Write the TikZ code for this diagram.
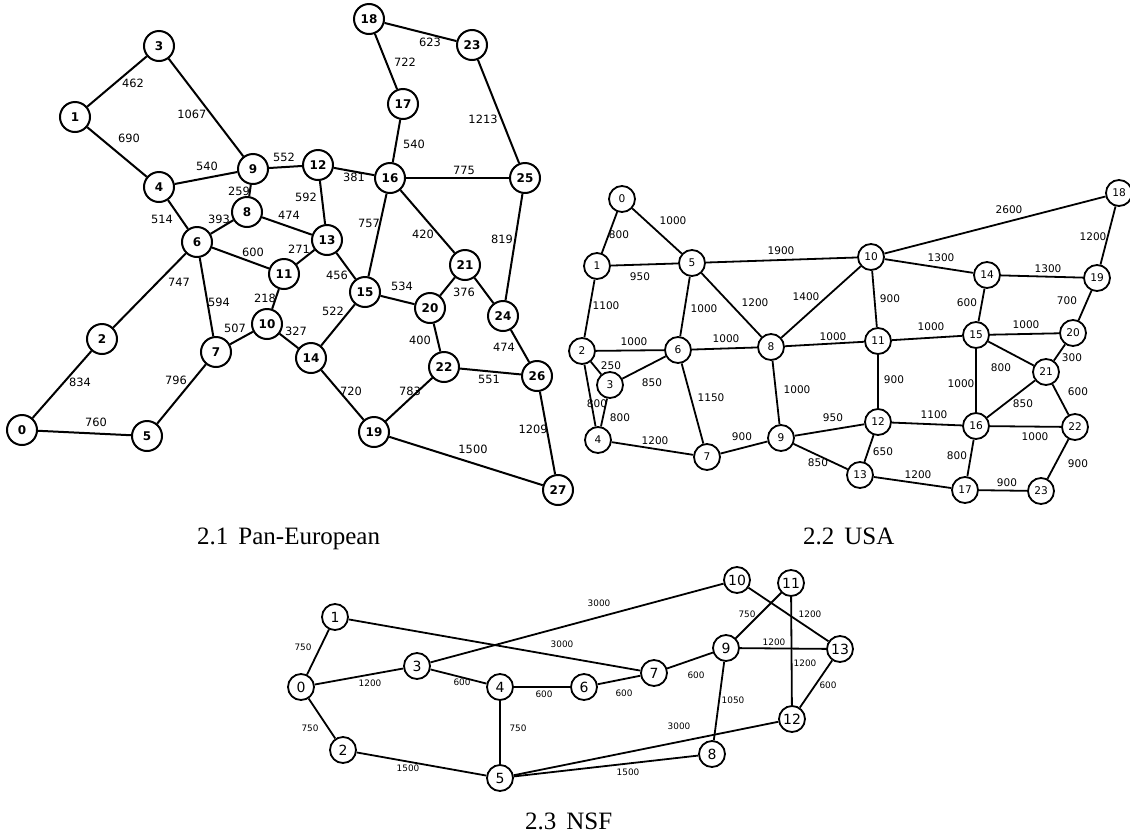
\documentclass[tikz,border=0pt]{standalone}
\usepackage{fontspec}
\setmainfont{Liberation Serif}
\newfontfamily\dv{DejaVu Sans}
\begin{document}
\begin{tikzpicture}[x=1pt,y=-1pt,
  pe/.style={circle, draw, line width=2pt, fill=white, minimum size=30pt, inner sep=0pt, font=\dv\bfseries\fontsize{12}{12}\selectfont},
  pw/.style={inner sep=0pt, font=\dv\fontsize{11.4}{11.4}\selectfont},
  us/.style={circle, draw, line width=1.8pt, fill=white, minimum size=26pt, inner sep=0pt, font=\dv\fontsize{10.6}{10.6}\selectfont},
  uw/.style={inner sep=0pt, font=\dv\fontsize{10.5}{10.5}\selectfont},
  ns/.style={circle, draw, line width=1.8pt, fill=white, minimum size=26pt, inner sep=0pt, font=\dv\fontsize{14}{14}\selectfont},
  nw/.style={inner sep=0pt, font=\dv\fontsize{8.9}{8.9}\selectfont},
  pl/.style={line width=2pt},
  ul/.style={line width=1.8pt},
  nl/.style={line width=1.8pt},
  captxt/.style={inner sep=0pt, font=\fontsize{25}{25}\selectfont}]
\useasboundingbox (0,0) rectangle (1130,836);

% ---------------- Pan-European ----------------
\node[pe] (p0) at (22,430) {0};
\node[pe] (p1) at (75,117) {1};
\node[pe] (p2) at (102,339) {2};
\node[pe] (p3) at (159,46) {3};
\node[pe] (p4) at (159,187) {4};
\node[pe] (p5) at (147,436) {5};
\node[pe] (p6) at (197,242) {6};
\node[pe] (p7) at (216,352) {7};
\node[pe] (p8) at (247,212) {8};
\node[pe] (p9) at (253,169) {9};
\node[pe] (p10) at (267,324) {10};
\node[pe] (p11) at (284,274) {11};
\node[pe] (p12) at (318,165) {12};
\node[pe] (p13) at (327,240) {13};
\node[pe] (p14) at (311,358) {14};
\node[pe] (p15) at (365,292) {15};
\node[pe] (p16) at (390,178) {16};
\node[pe] (p17) at (403,104) {17};
\node[pe] (p18) at (369,19) {18};
\node[pe] (p19) at (374,432) {19};
\node[pe] (p20) at (430,308) {20};
\node[pe] (p21) at (465,265) {21};
\node[pe] (p22) at (444,367) {22};
\node[pe] (p23) at (472,45) {23};
\node[pe] (p24) at (503,316) {24};
\node[pe] (p25) at (525,178) {25};
\node[pe] (p26) at (537,376) {26};
\node[pe] (p27) at (558,490) {27};

\foreach \a/\b in {3/1,3/9,1/4,4/9,9/12,9/8,4/6,6/8,8/13,12/13,12/16,6/11,11/13,6/2,6/7,11/10,10/7,10/14,13/15,15/14,2/0,0/5,5/7,18/23,18/17,17/16,23/25,16/25,16/15,16/21,25/24,15/20,21/20,21/24,20/22,24/26,22/26,22/19,14/19,26/27,19/27}
  \draw[pl] (p\a) -- (p\b);

\node[pw] (pw31) at (133,83) {462};
\node[pw] (pw39) at (192,114) {1067};
\node[pw] (pw14) at (129,138) {690};
\node[pw] (pw49) at (207,166) {540};
\node[pw] (pw912) at (284,157) {552};
\node[pw] (pw98) at (239,191) {259};
\node[pw] (pw46) at (162,219) {514};
\node[pw] (pw68) at (219,219) {393};
\node[pw] (pw813) at (289,215) {474};
\node[pw] (pw1213) at (306,197) {592};
\node[pw] (pw1216) at (354,177) {381};
\node[pw] (pw611) at (253,252) {600};
\node[pw] (pw1113) at (299,249) {271};
\node[pw] (pw62) at (179,282) {747};
\node[pw] (pw67) at (219,302) {594};
\node[pw] (pw1110) at (265,298) {218};
\node[pw] (pw107) at (235,328) {507};
\node[pw] (pw1014) at (296,331) {327};
\node[pw] (pw1315) at (337,275) {456};
\node[pw] (pw1514) at (333,311) {522};
\node[pw] (pw20) at (80,382) {834};
\node[pw] (pw57) at (176,380) {796};
\node[pw] (pw05) at (96,422) {760};
\node[pw] (pw1817) at (405,62) {722};
\node[pw] (pw1823) at (430,42) {623};
\node[pw] (pw1716) at (414,144) {540};
\node[pw] (pw2325) at (483,119) {1213};
\node[pw] (pw1625) at (464,170) {775};
\node[pw] (pw1615) at (369,223) {757};
\node[pw] (pw1621) at (423,234) {420};
\node[pw] (pw2524) at (502,239) {819};
\node[pw] (pw1520) at (402,286) {534};
\node[pw] (pw2120) at (464,292) {376};
\node[pw] (pw2022) at (420,340) {400};
\node[pw] (pw2426) at (504,347) {474};
\node[pw] (pw2226) at (489,379) {551};
\node[pw] (pw2219) at (410,391) {783};
\node[pw] (pw1419) at (351,391) {720};
\node[pw] (pw2627) at (533,429) {1209};
\node[pw] (pw1927) at (473,449) {1500};

% ---------------- USA ----------------
\node[us] (u0) at (622,199) {0};
\node[us] (u1) at (597,266) {1};
\node[us] (u2) at (582,351) {2};
\node[us] (u3) at (610,385) {3};
\node[us] (u4) at (598,440) {4};
\node[us] (u5) at (692,263) {5};
\node[us] (u6) at (678,350) {6};
\node[us] (u7) at (707,457) {7};
\node[us] (u8) at (771,347) {8};
\node[us] (u9) at (781,438) {9};
\node[us] (u10) at (871,257) {10};
\node[us] (u11) at (878,341) {11};
\node[us] (u12) at (878,422) {12};
\node[us] (u13) at (860,475) {13};
\node[us] (u14) at (987,275) {14};
\node[us] (u15) at (976,335) {15};
\node[us] (u16) at (976,426) {16};
\node[us] (u17) at (965,490) {17};
\node[us] (u18) at (1119,193) {18};
\node[us] (u19) at (1097,278) {19};
\node[us] (u20) at (1073,333) {20};
\node[us] (u21) at (1046,372) {21};
\node[us] (u22) at (1075,427) {22};
\node[us] (u23) at (1041,491) {23};

\foreach \a/\b in {0/1,0/5,1/5,5/10,1/2,5/6,5/8,8/10,2/6,6/8,8/11,2/3,3/6,6/7,8/9,2/4,3/4,4/7,7/9,9/12,9/13,10/18,18/19,10/14,14/19,10/11,14/15,19/20,11/15,15/20,20/21,15/21,11/12,15/16,21/22,16/21,12/16,16/22,12/13,16/17,22/23,13/17,17/23}
  \draw[ul] (u\a) -- (u\b);

\node[uw] (uw01) at (619,235) {800};
\node[uw] (uw05) at (673,221) {1000};
\node[uw] (uw15) at (640,277) {950};
\node[uw] (uw510) at (781,251) {1900};
\node[uw] (uw12) at (606,306) {1100};
\node[uw] (uw56) at (704,309) {1000};
\node[uw] (uw58) at (755,303) {1200};
\node[uw] (uw810) at (806,297) {1400};
\node[uw] (uw26) at (634,342) {1000};
\node[uw] (uw68) at (726,339) {1000};
\node[uw] (uw811) at (833,337) {1000};
\node[uw] (uw23) at (611,366) {250};
\node[uw] (uw36) at (652,383) {850};
\node[uw] (uw67) at (711,398) {1150};
\node[uw] (uw89) at (797,390) {1000};
\node[uw] (uw24) at (597,404) {800};
\node[uw] (uw34) at (620,418) {800};
\node[uw] (uw47) at (655,441) {1200};
\node[uw] (uw79) at (742,437) {900};
\node[uw] (uw912) at (833,418) {950};
\node[uw] (uw913) at (818,463) {850};
\node[uw] (uw1018) at (1009,210) {2600};
\node[uw] (uw1819) at (1093,237) {1200};
\node[uw] (uw1014) at (941,258) {1300};
\node[uw] (uw1419) at (1048,269) {1300};
\node[uw] (uw1011) at (890,299) {900};
\node[uw] (uw1415) at (967,303) {600};
\node[uw] (uw1920) at (1067,301) {700};
\node[uw] (uw1115) at (931,327) {1000};
\node[uw] (uw1520) at (1026,325) {1000};
\node[uw] (uw2021) at (1072,358) {300};
\node[uw] (uw1521) at (1001,368) {800};
\node[uw] (uw1112) at (894,380) {900};
\node[uw] (uw1516) at (961,384) {1000};
\node[uw] (uw2122) at (1078,392) {600};
\node[uw] (uw1621) at (1023,404) {850};
\node[uw] (uw1216) at (934,415) {1100};
\node[uw] (uw1622) at (1035,437) {1000};
\node[uw] (uw1213) at (883,452) {650};
\node[uw] (uw1617) at (957,456) {800};
\node[uw] (uw2223) at (1078,464) {900};
\node[uw] (uw1317) at (918,475) {1200};
\node[uw] (uw1723) at (1007,483) {900};

% ---------------- NSF ----------------
\node[ns] (n0) at (301,687) {0};
\node[ns] (n1) at (335,617) {1};
\node[ns] (n2) at (343,750) {2};
\node[ns] (n3) at (417,666) {3};
\node[ns] (n4) at (500,687) {4};
\node[ns] (n5) at (500,778) {5};
\node[ns] (n6) at (584,687) {6};
\node[ns] (n7) at (654,673) {7};
\node[ns] (n8) at (712,754) {8};
\node[ns] (n9) at (726,648) {9};
\node[ns] (n10) at (737,580) {10};
\node[ns] (n11) at (791,583) {11};
\node[ns] (n12) at (792,719) {12};
\node[ns] (n13) at (840,649) {13};

\foreach \a/\b in {0/1,0/3,0/2,1/7,3/10,3/4,4/6,4/5,2/5,6/7,7/9,9/11,10/13,9/13,11/12,12/13,9/8,5/12,5/8}
  \draw[nl] (n\a) -- (n\b);

\node[nw] (nw01) at (303,647) {750};
\node[nw] (nw03) at (370,683) {1200};
\node[nw] (nw02) at (310,728) {750};
\node[nw] (nw17) at (562,644) {3000};
\node[nw] (nw310) at (599,603) {3000};
\node[nw] (nw34) at (462,682) {600};
\node[nw] (nw46) at (544,694) {600};
\node[nw] (nw45) at (518,728) {750};
\node[nw] (nw25) at (408,768) {1500};
\node[nw] (nw67) at (624,693) {600};
\node[nw] (nw79) at (696,675) {600};
\node[nw] (nw911) at (747,614) {750};
\node[nw] (nw1013) at (810,614) {1200};
\node[nw] (nw913) at (774,642) {1200};
\node[nw] (nw1112) at (805,663) {1200};
\node[nw] (nw1213) at (828,685) {600};
\node[nw] (nw98) at (733,700) {1050};
\node[nw] (nw512) at (679,726) {3000};
\node[nw] (nw58) at (628,772) {1500};

% ---------------- captions ----------------
\node[captxt, anchor=base west] (c1) at (197,544) {2.1\hspace{0.4em}Pan-European};
\node[captxt, anchor=base west] (c2) at (803,544) {2.2\hspace{0.4em}USA};
\node[captxt, anchor=base west] (c3) at (525,829) {2.3\hspace{0.4em}NSF};
\end{tikzpicture}
\end{document}
